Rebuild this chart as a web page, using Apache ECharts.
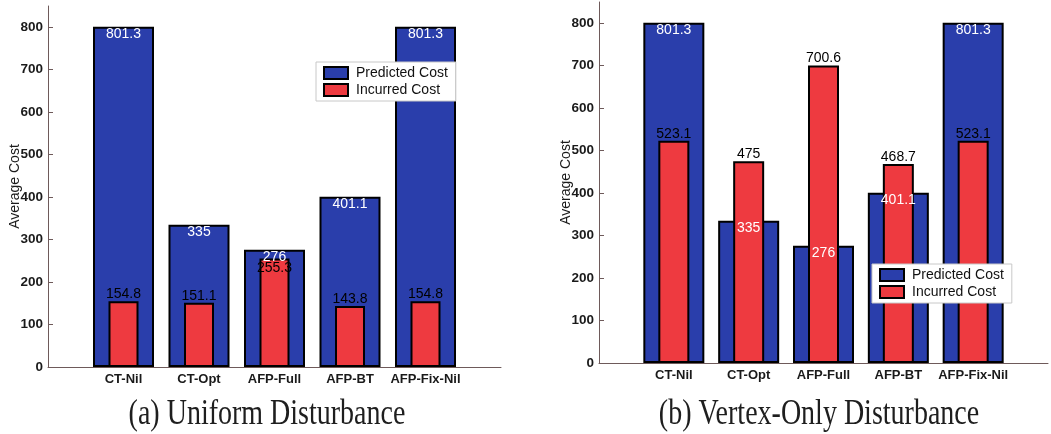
<!DOCTYPE html>
<html>
<head>
<meta charset="utf-8">
<script src="https://cdn.jsdelivr.net/npm/echarts@6/dist/echarts.min.js"></script>
<style>
  html, body { margin: 0; padding: 0; background: #ffffff; }
  #chart { width: 1051px; height: 434px; }
</style>
</head>
<body>
<div id="chart"></div>
<script>
// Average cost per planner, two disturbance models
const categories = ['CT-Nil', 'CT-Opt', 'AFP-Full', 'AFP-BT', 'AFP-Fix-Nil'];
const uniformPredicted = [801.3, 335, 276, 401.1, 801.3];
const uniformIncurred = [154.8, 151.1, 255.3, 143.8, 154.8];
const vertexPredicted = [801.3, 335, 276, 401.1, 801.3];
const vertexIncurred = [523.1, 475, 700.6, 468.7, 523.1];
const yTicks = [0, 100, 200, 300, 400, 500, 600, 700, 800];
const seriesNames = ['Predicted Cost', 'Incurred Cost'];
const captions = ['(a) Uniform Disturbance', '(b) Vertex-Only Disturbance'];
const yAxisName = 'Average Cost';

const BLUE = '#2a3eab';
const RED = '#ee3a40';
const AXIS = '#6e5a5a';
const SANS = '"Liberation Sans", Arial, Helvetica, sans-serif';

// bars sit at x = 1..5 on a 0..6 axis
const toPairs = vals => vals.map((v, i) => [i + 1, v]);

// incurred labels go above the bar, unless that would collide with the
// predicted-cost label sitting just above it; then they drop inside
const incurredItems = (inc, pred) => inc.map((v, i) => {
  const item = { value: [i + 1, v] };
  if (pred[i] > v && pred[i] - v < 40) {
    item.label = { position: 'insideTop', distance: 3 };
  }
  return item;
});

const panels = [
  { pred: uniformPredicted, inc: uniformIncurred,
    grid: { left: 48, top: 6, width: 453, height: 361 },
    wide: 61, narrow: 30, nameGap: 26,
    legend: { left: 316, top: 62 }, caption: { x: 267, y: 415 } },
  { pred: vertexPredicted, inc: vertexIncurred,
    grid: { left: 599, top: 2, width: 456, height: 361 },
    wide: 61, narrow: 31, nameGap: 26,
    legend: { left: 872, top: 264 }, caption: { x: 819, y: 415 } }
];

const grids = [], xAxes = [], yAxes = [], series = [], legends = [], graphics = [];

panels.forEach((p, g) => {
  grids.push(Object.assign({ containLabel: false }, p.grid));

  // visible category axis (carries the blue bars)
  xAxes.push({
    type: 'value', gridIndex: g, min: 0, max: 6, interval: 1,
    axisLine: { show: true, lineStyle: { color: AXIS, width: 1 } },
    axisTick: { show: false },
    splitLine: { show: false },
    axisLabel: {
      formatter: v => categories[v - 1] || '',
      color: '#1a1a1a', fontFamily: SANS, fontSize: 13, fontWeight: 'bold', margin: 6
    }
  });
  // hidden axes for the red bars and the blue value labels
  for (let k = 0; k < 2; k++) {
    xAxes.push({ type: 'value', gridIndex: g, min: 0, max: 6, show: false });
  }

  yAxes.push({
    type: 'value', gridIndex: g, min: 0, max: 850,
    name: yAxisName, nameLocation: 'middle', nameGap: p.nameGap, nameRotate: 90,
    nameMoveOverlap: false,
    nameTextStyle: { color: '#1a1a1a', fontFamily: SANS, fontSize: 14 },
    axisLine: { show: true, lineStyle: { color: AXIS, width: 1 } },
    axisTick: { show: true, inside: true, length: 5, customValues: yTicks, lineStyle: { color: AXIS } },
    splitLine: { show: false },
    axisLabel: {
      customValues: yTicks,
      color: '#1a1a1a', fontFamily: SANS, fontSize: 13.5, fontWeight: 'bold', margin: 5
    }
  });

  const xi = g * 3;
  series.push({
    name: seriesNames[0], type: 'bar', xAxisIndex: xi, yAxisIndex: g,
    data: toPairs(p.pred), barWidth: p.wide, z: 2,
    itemStyle: { color: BLUE, borderColor: '#000', borderWidth: 2 }
  });
  series.push({
    name: seriesNames[1], type: 'bar', xAxisIndex: xi + 1, yAxisIndex: g,
    data: incurredItems(p.inc, p.pred), barWidth: p.narrow, z: 3,
    itemStyle: { color: RED, borderColor: '#000', borderWidth: 2 },
    label: {
      show: true, position: 'top', distance: 0,
      formatter: d => String(d.value[1]),
      color: '#000', fontFamily: SANS, fontSize: 14
    }
  });
  // white value labels for the predicted cost, kept above the red bars
  series.push({
    type: 'bar', xAxisIndex: xi + 2, yAxisIndex: g,
    data: toPairs(p.pred), barWidth: p.wide, z: 4, silent: true,
    itemStyle: { color: 'rgba(0,0,0,0)', borderWidth: 0 },
    label: {
      show: true, position: 'insideTop', distance: 0,
      formatter: d => String(d.value[1]),
      color: '#ffffff', fontFamily: SANS, fontSize: 14
    }
  });

  legends.push({
    data: seriesNames, orient: 'vertical',
    left: p.legend.left, top: p.legend.top,
    icon: 'rect', itemWidth: 24, itemHeight: 12, itemGap: 3,
    padding: [4, 8, 4, 7],
    backgroundColor: '#ffffff', borderColor: '#c8c8c8', borderWidth: 1, borderRadius: 0,
    selectedMode: false,
    textStyle: { color: '#111', fontFamily: SANS, fontSize: 14, padding: [0, 0, 0, 3] }
  });

  graphics.push({
    type: 'text', x: p.caption.x, y: p.caption.y, scaleY: 1.25,
    style: {
      text: captions[g], align: 'center', verticalAlign: 'middle',
      fontFamily: '"Liberation Serif", "Times New Roman", serif', fontSize: 28,
      fill: '#1e1e1e'
    }
  });
});

const chart = echarts.init(document.getElementById('chart'), null, { renderer: 'canvas' });
chart.setOption({
  animation: false,
  backgroundColor: '#ffffff',
  grid: grids,
  xAxis: xAxes,
  yAxis: yAxes,
  legend: legends,
  series: series,
  graphic: graphics
});
</script>
</body>
</html>
